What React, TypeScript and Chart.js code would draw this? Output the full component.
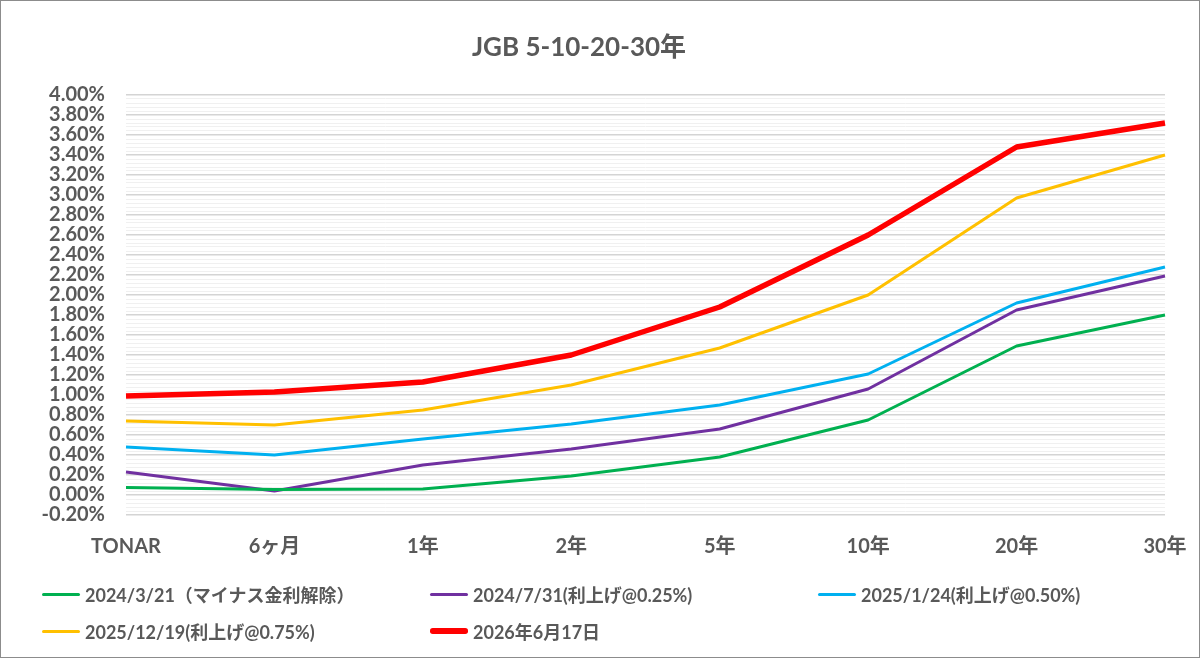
import { useEffect, useRef } from 'react'
import { Chart, registerables } from 'chart.js'

Chart.register(...registerables)

const CATEGORIES = ['TONAR', '6ヶ月', '1年', '2年', '5年', '10年', '20年', '30年']

const SERIES_LABELS = [
  '2024/3/21（マイナス金利解除）',
  '2024/7/31(利上げ@0.25%)',
  '2025/1/24(利上げ@0.50%)',
  '2025/12/19(利上げ@0.75%)',
  '2026年6月17日',
]
const SERIES_COLORS = ['#00B050', '#7030A0', '#00B0F0', '#FFC000', '#FF0000']
const SERIES_WIDTHS = [3, 3, 3, 3, 5.5]

// yields in %
const YIELD_20240321 = [0.075, 0.055, 0.06, 0.19, 0.38, 0.75, 1.49, 1.8]
const YIELD_20240731 = [0.23, 0.04, 0.3, 0.46, 0.66, 1.06, 1.85, 2.19]
const YIELD_20250124 = [0.48, 0.4, 0.56, 0.71, 0.9, 1.21, 1.92, 2.28]
const YIELD_20251219 = [0.74, 0.7, 0.85, 1.1, 1.47, 2.0, 2.97, 3.4]
const YIELD_20260617 = [0.99, 1.03, 1.13, 1.4, 1.88, 2.6, 3.48, 3.72]

const SERIES_VALUES = [
  YIELD_20240321,
  YIELD_20240731,
  YIELD_20250124,
  YIELD_20251219,
  YIELD_20260617,
]

const Y_MIN = -0.2
const Y_MAX = 4.0
const Y_MAJOR = 0.2
const Y_MINOR = 0.04

const TEXT = '#595959'
const FONT = "Lato, 'Noto Sans CJK JP', sans-serif"

const isMajor = (v: number) => Math.abs(v / Y_MAJOR - Math.round(v / Y_MAJOR)) < 1e-6

// legend cells: [column x, row y]
const LEGEND_POS: [number, number][] = [
  [42, 593],
  [430, 593],
  [818, 593],
  [42, 630],
  [430, 630],
]

export default function App() {
  const canvasRef = useRef<HTMLCanvasElement>(null)

  useEffect(() => {
    if (!canvasRef.current) return
    const chart = new Chart(canvasRef.current, {
      type: 'line',
      data: {
        labels: CATEGORIES,
        datasets: SERIES_VALUES.map((values, i) => ({
          label: SERIES_LABELS[i],
          data: values,
          borderColor: SERIES_COLORS[i],
          backgroundColor: SERIES_COLORS[i],
          borderWidth: SERIES_WIDTHS[i],
          pointRadius: 0,
          tension: 0,
          borderJoinStyle: 'round' as const,
          order: i === 4 ? -1 : i,
        })),
      },
      options: {
        animation: false,
        responsive: true,
        maintainAspectRatio: false,
        events: [],
        layout: { padding: { top: 95, right: 35, bottom: 93, left: 0 } },
        plugins: {
          legend: { display: false },
          title: { display: false },
          tooltip: { enabled: false },
        },
        scales: {
          x: {
            type: 'category',
            offset: false,
            // invisible tick marks push the labels down without widening the side padding
            grid: {
              display: true,
              drawOnChartArea: false,
              drawTicks: true,
              tickLength: 20,
              color: 'rgba(0,0,0,0)',
            },
            border: { display: false },
            ticks: {
              autoSkip: false,
              maxRotation: 0,
              padding: 0,
              color: TEXT,
              font: { family: FONT, size: 20, weight: 'bold' },
            },
            afterFit: (scale: any) => {
              scale.height = 50
            },
          },
          y: {
            type: 'linear',
            min: Y_MIN,
            max: Y_MAX,
            border: { display: false },
            grid: {
              drawTicks: false,
              color: (ctx: any) => (isMajor(ctx.tick.value) ? '#d4d4d4' : '#f0f0f0'),
              lineWidth: (ctx: any) => (isMajor(ctx.tick.value) ? 1.5 : 1),
            },
            ticks: {
              stepSize: Y_MINOR,
              autoSkip: false,
              padding: 21,
              color: TEXT,
              font: { family: FONT, size: 20, weight: 'bold' },
              callback: (value: number | string) => {
                const n = Number(value)
                if (!isMajor(n)) return ''
                const r = Math.round(n / Y_MAJOR) * Y_MAJOR
                return `${(Math.abs(r) < 1e-9 ? 0 : r).toFixed(2)}%`
              },
            },
            afterFit: (scale: any) => {
              scale.width = 126
            },
          },
        },
      },
    })
    return () => {
      chart.destroy()
    }
  }, [])

  return (
    <div
      style={{
        position: 'absolute',
        left: 0,
        top: 0,
        width: 1200,
        height: 658,
        boxSizing: 'border-box',
        border: '1px solid #8c8c8c',
        background: '#ffffff',
        fontFamily: FONT,
        color: TEXT,
      }}
    >
      <div
        style={{
          position: 'absolute',
          left: -1,
          top: -1,
          width: 1200,
          height: 658,
        }}
      >
        <canvas ref={canvasRef} />
      </div>
      <div
        style={{
          position: 'absolute',
          left: 0,
          top: 29,
          width: 1156,
          textAlign: 'center',
          fontSize: 26,
          fontWeight: 'bold',
          lineHeight: '32px',
        }}
      >
        JGB 5-10-20-30年
      </div>
      {SERIES_LABELS.map((label, i) => (
        <div
          key={label}
          style={{
            position: 'absolute',
            left: LEGEND_POS[i][0] - 1,
            top: LEGEND_POS[i][1] - 14,
            height: 28,
            display: 'flex',
            alignItems: 'center',
            whiteSpace: 'nowrap',
            fontSize: 18,
            fontWeight: 'bold',
          }}
        >
          <span
            style={{
              display: 'inline-block',
              width: 38,
              height: SERIES_WIDTHS[i],
              background: SERIES_COLORS[i],
              borderRadius: SERIES_WIDTHS[i] / 2,
              marginRight: 5,
            }}
          />
          {label}
        </div>
      ))}
    </div>
  )
}
